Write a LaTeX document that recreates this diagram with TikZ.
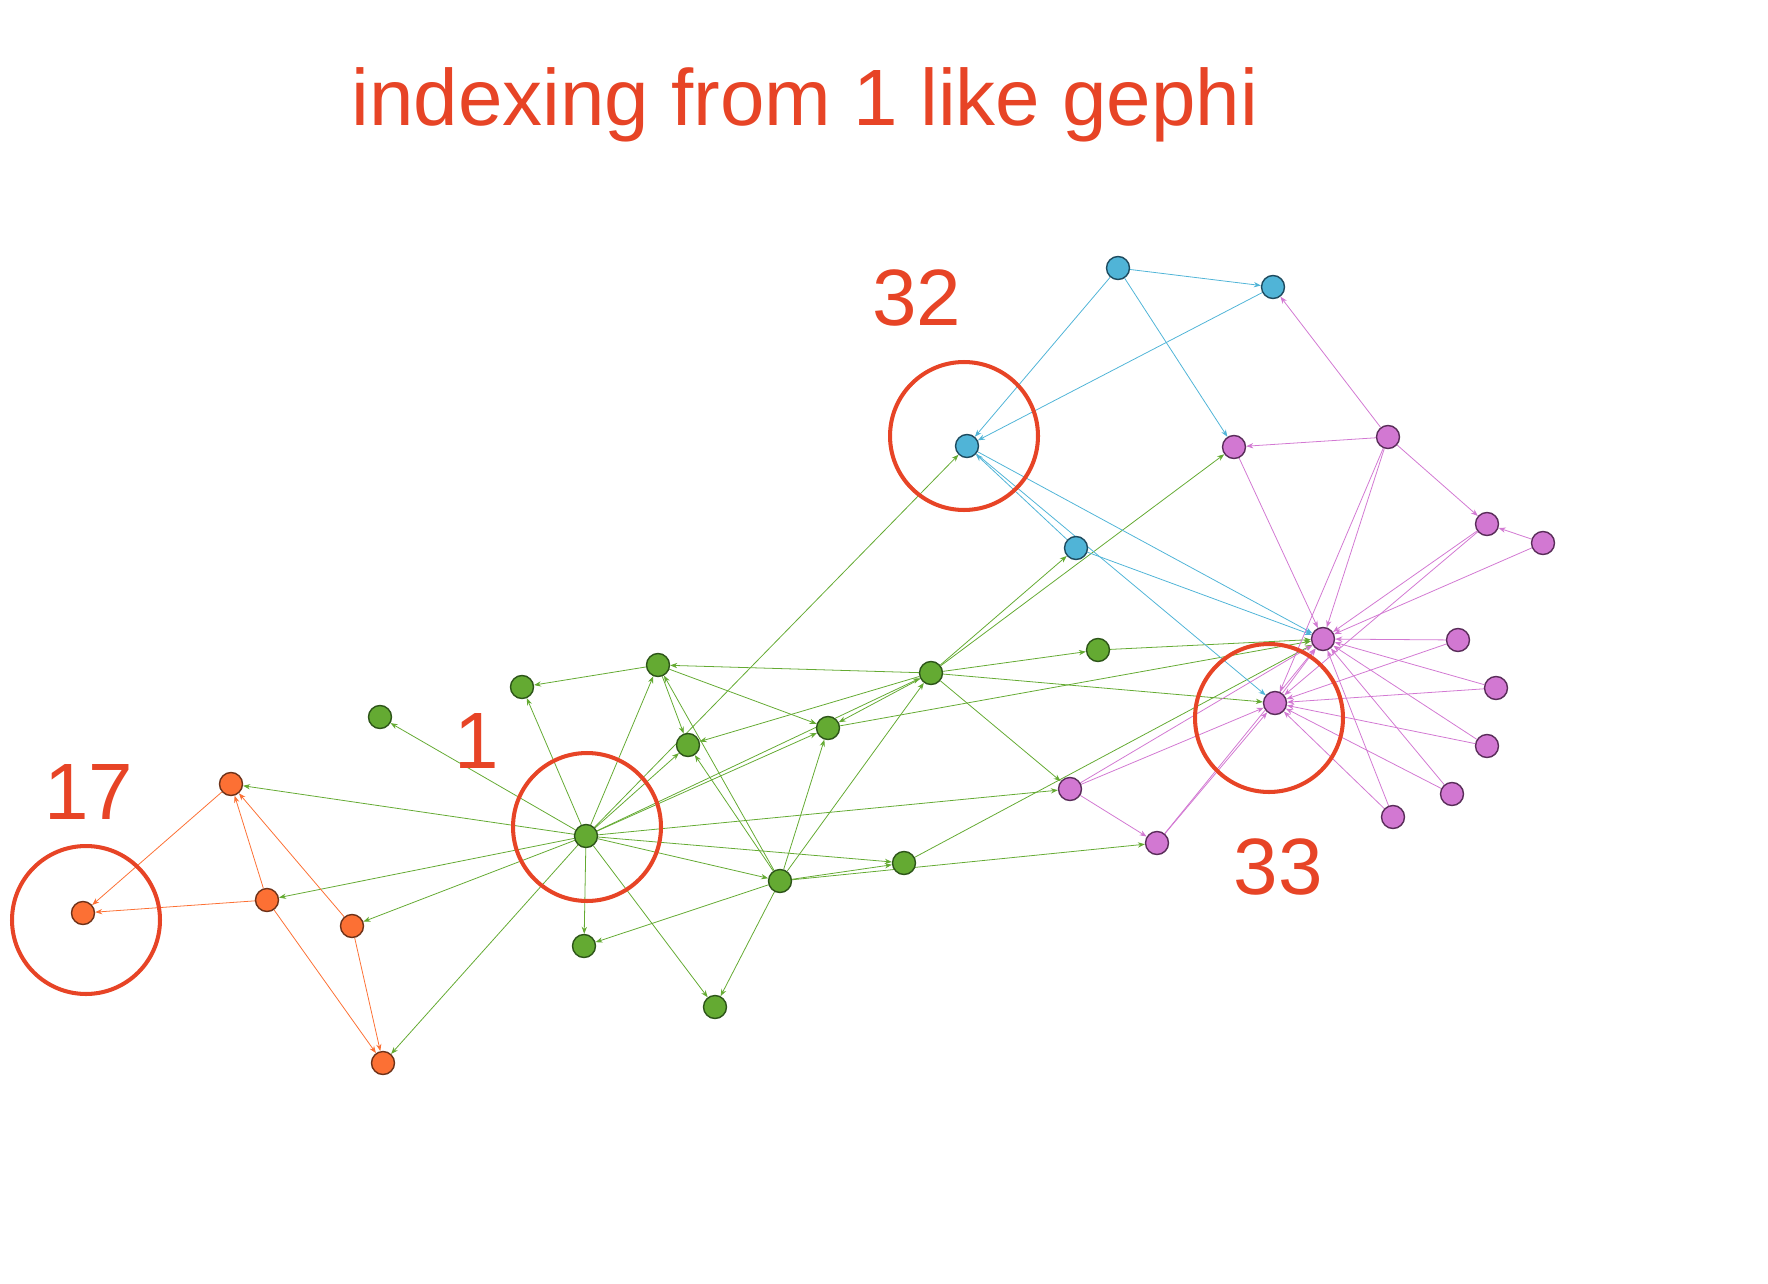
\documentclass[tikz,border=0pt]{standalone}
\usepackage{fontspec}
\setmainfont{Liberation Sans}
\definecolor{markred}{RGB}{231, 68, 38}
\definecolor{clubgreen}{RGB}{100, 170, 50}
\definecolor{clubgreenrim}{RGB}{45, 85, 25}
\definecolor{cluborange}{RGB}{252, 112, 52}
\definecolor{cluborangerim}{RGB}{110, 50, 25}
\definecolor{clubblue}{RGB}{80, 180, 215}
\definecolor{clubbluerim}{RGB}{30, 75, 95}
\definecolor{clubpink}{RGB}{210, 120, 210}
\definecolor{clubpinkrim}{RGB}{90, 45, 90}
\usetikzlibrary{arrows.meta, backgrounds}

\tikzset{
  member/.style={circle, inner sep=0pt, minimum size=0.46cm, line width=0.8pt},
  gmember/.style={member, draw=clubgreenrim, fill=clubgreen},
  omember/.style={member, draw=cluborangerim, fill=cluborange},
  bmember/.style={member, draw=clubbluerim, fill=clubblue},
  pmember/.style={member, draw=clubpinkrim, fill=clubpink},
  tie/.style={line width=0.45pt, -{Stealth[length=4pt, width=3pt]}},
  ring/.style={circle, draw=markred, line width=2.3pt, minimum size=2.96cm, inner sep=0pt},
  idlabel/.style={text=markred, inner sep=0pt, font=\fontsize{45.5}{50}\selectfont}
}

\begin{document}
\begin{tikzpicture}[x=0.02cm, y=-0.02cm]
  \useasboundingbox (0,0) rectangle (1768,1284);

  % Title
  \node[idlabel, anchor=base] (title) at (805,126) {indexing from 1 like gephi};

  % Orange group
  \node[omember] (n5) at (352,926) {};
  \node[omember] (n6) at (267,900) {};
  \node[omember] (n7) at (231,784) {};
  \node[omember] (n11) at (383,1063) {};
  \node[omember] (n17) at (83,913) {};

  % Green group
  \node[gmember] (n1) at (586,836) {};
  \node[gmember] (n2) at (780,881) {};
  \node[gmember] (n3) at (931,673) {};
  \node[gmember] (n4) at (658,665) {};
  \node[gmember] (n8) at (688,745) {};
  \node[gmember] (n10) at (1098,650) {};
  \node[gmember] (n12) at (380,717) {};
  \node[gmember] (n13) at (522,687) {};
  \node[gmember] (n14) at (828,728) {};
  \node[gmember] (n18) at (584,946) {};
  \node[gmember] (n20) at (904,863) {};
  \node[gmember] (n22) at (715,1007) {};

  % Blue group
  \node[bmember] (n25) at (1118,268) {};
  \node[bmember] (n26) at (1273,287) {};
  \node[bmember] (n29) at (1076,548) {};
  \node[bmember] (n32) at (967,446) {};

  % Pink group
  \node[pmember] (n9) at (1070,789) {};
  \node[pmember] (n15) at (1458,640) {};
  \node[pmember] (n16) at (1496,688) {};
  \node[pmember] (n19) at (1487,746) {};
  \node[pmember] (n21) at (1452,794) {};
  \node[pmember] (n23) at (1393,817) {};
  \node[pmember] (n24) at (1388,437) {};
  \node[pmember] (n27) at (1543,543) {};
  \node[pmember] (n28) at (1234,447) {};
  \node[pmember] (n30) at (1487,524) {};
  \node[pmember] (n31) at (1157,843) {};
  \node[pmember] (n33) at (1275,703) {};
  \node[pmember] (n34) at (1323,639) {};

  % Ties, coloured by their source
  \begin{scope}[on background layer]
    \foreach \s/\t in {1/2,1/3,1/4,1/5,1/6,1/7,1/8,1/9,1/11,1/12,1/13,1/14,1/18,1/20,1/22,1/32,
                       2/3,2/4,2/8,2/14,2/18,2/20,2/22,2/31,
                       3/4,3/8,3/9,3/10,3/14,3/28,3/29,3/33,
                       4/8,4/13,4/14,10/34,14/34,20/34}
      \draw[tie, clubgreen] (n\s) -- (n\t);
    \foreach \s/\t in {5/7,5/11,6/7,6/11,6/17,7/17}
      \draw[tie, cluborange] (n\s) -- (n\t);
    \foreach \s/\t in {25/26,25/28,25/32,26/32,29/32,29/34,32/33,32/34}
      \draw[tie, clubblue] (n\s) -- (n\t);
    \foreach \s/\t in {9/31,9/33,9/34,15/33,15/34,16/33,16/34,19/33,19/34,21/33,21/34,23/33,23/34,
                       24/26,24/28,24/30,24/33,24/34,27/30,27/34,28/34,30/33,30/34,31/33,31/34,33/34}
      \draw[tie, clubpink] (n\s) -- (n\t);
  \end{scope}

  % Marked members
  \node[ring] (ring1) at (587,827) {};
  \node[ring] (ring17) at (86,920) {};
  \node[ring] (ring32) at (964,436) {};
  \node[ring] (ring33) at (1269,718) {};
  \node[idlabel] (label1) at (477,741) {1};
  \node[idlabel] (label17) at (89,792) {17};
  \node[idlabel] (label32) at (917,298) {32};
  \node[idlabel] (label33) at (1278,867) {33};
\end{tikzpicture}
\end{document}
